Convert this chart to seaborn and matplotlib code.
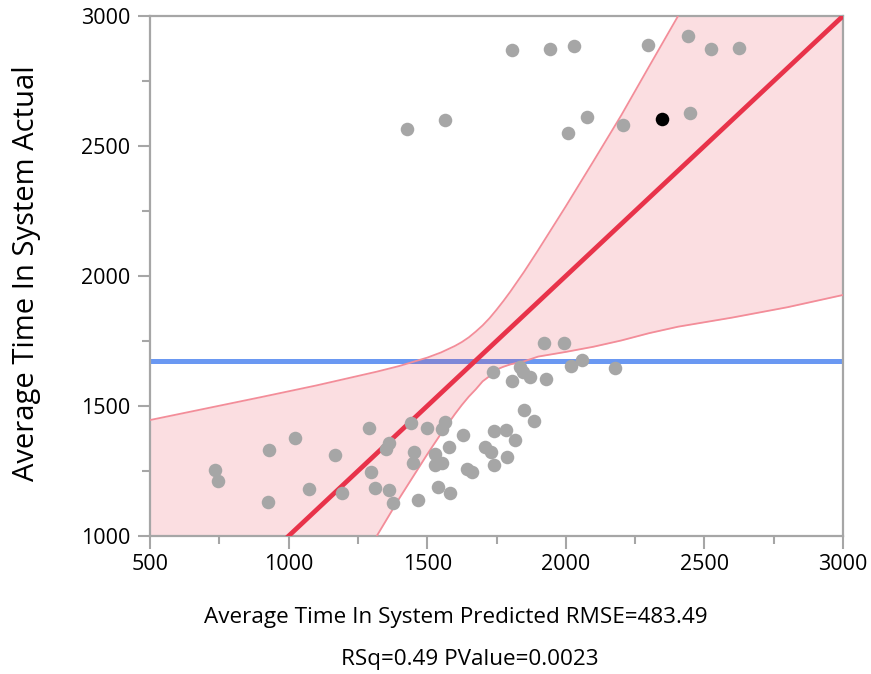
import numpy as np
import matplotlib
matplotlib.use("Agg")
import matplotlib.pyplot as plt
from matplotlib.ticker import MultipleLocator
import seaborn as sns

# ---------------- data ----------------
predicted = [734, 744, 929, 1024, 925, 1075, 1166, 1194, 1289, 1296,
             1313, 1363, 1350, 1363, 1377, 1442, 1454, 1448, 1499, 1527,
             1528, 1552, 1555, 1564, 1580, 1467, 1538, 1581, 1630, 1643,
             1663, 1709, 1730, 1741, 1742, 1739, 1922, 1994, 1834, 1847,
             1871, 1807, 1929, 2019, 2060, 2178, 1849, 1884, 1783, 1817,
             1789,
             1806, 1943, 2030, 2297, 2441, 2524, 2625, 1427, 1564, 2077,
             2008, 2207, 2448]
actual = [1254, 1213, 1330, 1376, 1132, 1182, 1310, 1167, 1415, 1245,
          1186, 1358, 1335, 1178, 1128, 1436, 1322, 1282, 1417, 1314,
          1273, 1282, 1412, 1439, 1342, 1140, 1190, 1164, 1390, 1258,
          1247, 1344, 1324, 1405, 1273, 1632, 1741, 1744, 1649, 1632,
          1610, 1596, 1604, 1655, 1677, 1647, 1485, 1441, 1409, 1369,
          1304,
          2869, 2873, 2885, 2888, 2923, 2873, 2877, 2565, 2600, 2612,
          2550, 2581, 2627]
highlight_predicted = [2347]
highlight_actual = [2604]

fit_x = [500, 3000]
fit_y = [500, 3000]
mean_x = [500, 3000]
mean_y = [1673, 1673]

band_x = [500, 700, 900, 1100, 1318, 1400, 1500, 1550, 1600, 1625, 1650,
          1675, 1700, 1725, 1750, 1775, 1800, 1850, 1900, 2000, 2100, 2200,
          2300, 2405, 2600, 2800, 3000]
band_upper = [1446, 1490, 1534, 1579, 1632, 1654, 1686, 1706, 1731, 1746,
              1764, 1786, 1810, 1838, 1870, 1904, 1940, 2017, 2099, 2268,
              2442, 2618, 2805, 3000, 3000, 3000, 3000]
band_lower = [1000, 1000, 1000, 1000, 1000, 1146, 1314, 1394, 1469, 1504,
              1536, 1564, 1595, 1615, 1640, 1651, 1660, 1672, 1690, 1708,
              1728, 1752, 1780, 1805, 1840, 1880, 1927]

x_ticks = [500, 1000, 1500, 2000, 2500, 3000]
y_ticks = [1000, 1500, 2000, 2500, 3000]
x_label = "Average Time In System Predicted RMSE=483.49"
stats_label = "RSq=0.49 PValue=0.0023"
y_label = "Average Time In System Actual"

# ---------------- style ----------------
sns.set_theme(style="white")
plt.rcParams['font.family'] = ['Open Sans', 'DejaVu Sans']

GRID_GREY = "#A6A6A6"
FIT_RED = "#E8334A"
MEAN_BLUE = "#6A98F2"
BAND_EDGE = "#F38D99"
POINT_GREY = "#A6A6A6"

fig = plt.figure(figsize=(8.71, 6.74), dpi=100)
ax = fig.add_axes([150 / 871, 1 - 536 / 674, 693 / 871, 520 / 674])

# mean line (under the band)
sns.lineplot(x=mean_x, y=mean_y, ax=ax, color=MEAN_BLUE, linewidth=3.6,
             estimator=None, sort=False, zorder=1)

# confidence band
bx = np.array(band_x, dtype=float)
bu = np.array(band_upper, dtype=float)
bl = np.array(band_lower, dtype=float)
ax.fill_between(bx, bl, bu, color=FIT_RED, alpha=0.16, linewidth=0, zorder=2)
mu = bu < 3000
mu[np.argmax(bu >= 3000)] = True
ml = bl > 1000
ml[np.argmax(bl > 1000) - 1] = True
sns.lineplot(x=bx[mu], y=bu[mu], ax=ax, color=BAND_EDGE, linewidth=1.3,
             estimator=None, sort=False, zorder=3)
sns.lineplot(x=bx[ml], y=bl[ml], ax=ax, color=BAND_EDGE, linewidth=1.3,
             estimator=None, sort=False, zorder=3)

# fit line
sns.lineplot(x=fit_x, y=fit_y, ax=ax, color=FIT_RED, linewidth=3.4,
             estimator=None, sort=False, zorder=4)

# points
sns.scatterplot(x=predicted, y=actual, ax=ax, color=POINT_GREY, s=95,
                linewidth=0, zorder=5)
sns.scatterplot(x=highlight_predicted, y=highlight_actual, ax=ax,
                color="black", s=95, linewidth=0, zorder=6)

ax.set_xlim(500, 3000)
ax.set_ylim(1000, 3000)
ax.set_xticks(x_ticks)
ax.set_yticks(y_ticks)
ax.xaxis.set_minor_locator(MultipleLocator(250))
ax.yaxis.set_minor_locator(MultipleLocator(250))
ax.tick_params(axis='both', which='major', direction='out', length=9,
               width=1.5, color=GRID_GREY, labelsize=15.5, labelcolor="black")
ax.tick_params(axis='both', which='minor', direction='out', length=5.5,
               width=1.5, color=GRID_GREY)
ax.tick_params(axis='x', which='major', pad=4)
ax.tick_params(axis='y', which='major', pad=5)
ax.tick_params(which='both', bottom=True, left=True, top=False, right=False)

for side in ["left", "right", "top", "bottom"]:
    ax.spines[side].set_visible(True)
    ax.spines[side].set_color(GRID_GREY)
    ax.spines[side].set_linewidth(1.6)

ax.set_xlabel("")
ax.set_ylabel(y_label, fontsize=21, color="black")
ax.yaxis.set_label_coords(-0.157, 0.505)

fig.text(456 / 871, 1 - 617 / 674, x_label, ha="center", va="center",
         fontsize=16.2, color="black")
fig.text(470 / 871, 1 - 659 / 674, stats_label, ha="center", va="center",
         fontsize=16.2, color="black")

fig.savefig("out.png", dpi=100)
